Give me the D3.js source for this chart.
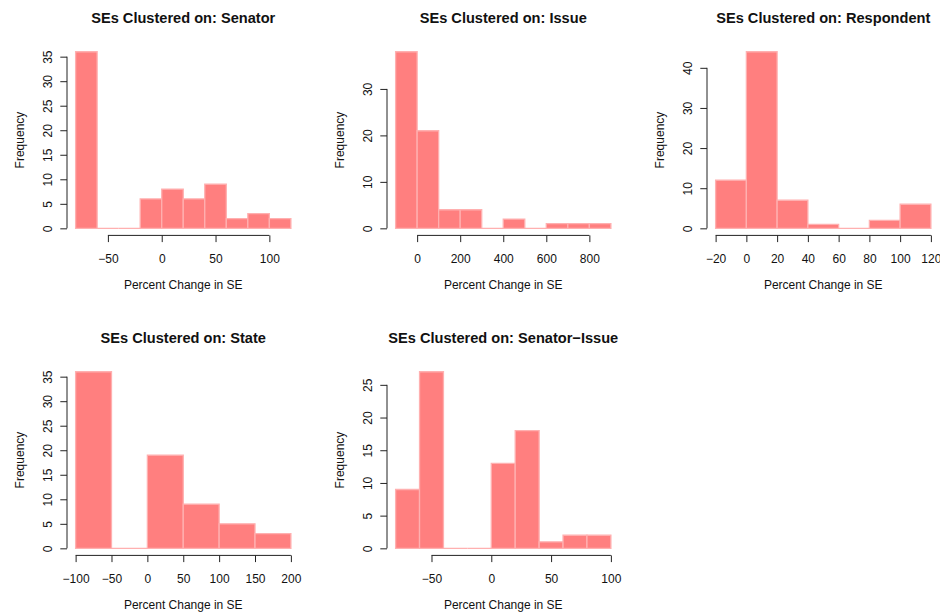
<!DOCTYPE html>
<html>
<head>
<meta charset="utf-8">
<script src="https://cdn.jsdelivr.net/npm/d3@7"></script>
<style>
  html, body { margin: 0; padding: 0; background: #fff; }
  svg { display: block; font-family: "Liberation Sans", Arial, Helvetica, sans-serif; }
</style>
</head>
<body>
<svg id="chart" width="940" height="613"></svg>
<script>
// Histogram data: bin edges and counts for each clustering level
const titles = [
  "SEs Clustered on: Senator",
  "SEs Clustered on: Issue",
  "SEs Clustered on: Respondent",
  "SEs Clustered on: State",
  "SEs Clustered on: Senator\u2212Issue"
];

const senatorBreaks = [-80, -60, -40, -20, 0, 20, 40, 60, 80, 100, 120];
const senatorCounts = [36, 0, 0, 6, 8, 6, 9, 2, 3, 2];

const issueBreaks = [-100, 0, 100, 200, 300, 400, 500, 600, 700, 800, 900];
const issueCounts = [38, 21, 4, 4, 0, 2, 0, 1, 1, 1];

const respondentBreaks = [-20, 0, 20, 40, 60, 80, 100, 120];
const respondentCounts = [12, 44, 7, 1, 0, 2, 6];

const stateBreaks = [-100, -50, 0, 50, 100, 150, 200];
const stateCounts = [36, 0, 19, 9, 5, 3];

const senatorIssueBreaks = [-80, -60, -40, -20, 0, 20, 40, 60, 80, 100];
const senatorIssueCounts = [9, 27, 0, 0, 13, 18, 1, 2, 2];

// Axis tick values
const senatorXTicks = [-50, 0, 50, 100];
const senatorYTicks = [0, 5, 10, 15, 20, 25, 30, 35];
const issueXTicks = [0, 200, 400, 600, 800];
const issueYTicks = [0, 10, 20, 30];
const respondentXTicks = [-20, 0, 20, 40, 60, 80, 100, 120];
const respondentYTicks = [0, 10, 20, 30, 40];
const stateXTicks = [-100, -50, 0, 50, 100, 150, 200];
const stateYTicks = [0, 5, 10, 15, 20, 25, 30, 35];
const senatorIssueXTicks = [-50, 0, 50, 100];
const senatorIssueYTicks = [0, 5, 10, 15, 20, 25];

const xLabel = "Percent Change in SE";
const yLabel = "Frequency";

const panels = [
  { title: titles[0], breaks: senatorBreaks, counts: senatorCounts, xt: senatorXTicks, yt: senatorYTicks },
  { title: titles[1], breaks: issueBreaks, counts: issueCounts, xt: issueXTicks, yt: issueYTicks },
  { title: titles[2], breaks: respondentBreaks, counts: respondentCounts, xt: respondentXTicks, yt: respondentYTicks },
  { title: titles[3], breaks: stateBreaks, counts: stateCounts, xt: stateXTicks, yt: stateYTicks },
  { title: titles[4], breaks: senatorIssueBreaks, counts: senatorIssueCounts, xt: senatorIssueXTicks, yt: senatorIssueYTicks }
];

// Layout: 2 x 3 grid of plot regions
const cellW = 320, cellH = 320;
const plotLeft0 = 67, plotTop0 = 44.7;
const plotW = 232.5, plotH = 190.7;

const svg = d3.select("#chart");
const fmt = d3.format("");

panels.forEach((p, i) => {
  const col = i % 3, row = Math.floor(i / 3);
  const left = plotLeft0 + col * cellW;
  const top = plotTop0 + row * cellH;

  // Extend the data range by 4% on each side
  const x0 = p.breaks[0], x1 = p.breaks[p.breaks.length - 1];
  const xPad = (x1 - x0) * 0.04;
  const yMax = d3.max(p.counts);
  const yPad = yMax * 0.04;

  const x = d3.scaleLinear().domain([x0 - xPad, x1 + xPad]).range([left, left + plotW]);
  const y = d3.scaleLinear().domain([-yPad, yMax + yPad]).range([top + plotH, top]);

  const g = svg.append("g");

  // Bars (zero-count bins still show their outline along the baseline)
  const bins = p.counts.map((c, k) => ({ lo: p.breaks[k], hi: p.breaks[k + 1], n: c }));
  g.append("g")
    .selectAll("path")
    .data(bins)
    .join("path")
    .attr("d", d => {
      const a = x(d.lo), b = x(d.hi), y0 = y(0), y1 = y(d.n);
      return `M${a},${y0}V${y1}H${b}V${y0}Z`;
    })
    .attr("fill", "#ff7f7f")
    .attr("stroke", "#ffb0b0")
    .attr("stroke-width", 1.3);

  // X axis: line runs from the first to the last tick
  const xAxis = d3.axisBottom(x).tickValues(p.xt).tickSize(6.7).tickSizeOuter(0).tickFormat(fmt);
  const xg = g.append("g").attr("transform", `translate(0,${top + plotH})`).call(xAxis);
  xg.select(".domain").remove();
  xg.append("line")
    .attr("x1", x(p.xt[0])).attr("x2", x(p.xt[p.xt.length - 1]))
    .attr("y1", 0).attr("y2", 0)
    .attr("stroke", "#222").attr("stroke-width", 1);
  xg.selectAll(".tick line").attr("stroke", "#222");
  xg.selectAll(".tick text")
    .attr("y", 27.2).attr("dy", null)
    .attr("fill", "#111")
    .style("font-size", "12px")
    .style("font-family", "\"Liberation Sans\", Arial, sans-serif");

  // Y axis with rotated labels
  const yAxis = d3.axisLeft(y).tickValues(p.yt).tickSize(6.7).tickSizeOuter(0).tickFormat(fmt);
  const yg = g.append("g").attr("transform", `translate(${left},0)`).call(yAxis);
  yg.select(".domain").remove();
  yg.append("line")
    .attr("x1", 0).attr("x2", 0)
    .attr("y1", y(p.yt[0])).attr("y2", y(p.yt[p.yt.length - 1]))
    .attr("stroke", "#222").attr("stroke-width", 1);
  yg.selectAll(".tick line").attr("stroke", "#222");
  yg.selectAll(".tick text")
    .attr("x", null).attr("dy", null)
    .attr("transform", "translate(-15.5,0) rotate(-90)")
    .attr("text-anchor", "middle")
    .attr("fill", "#111")
    .style("font-size", "12px")
    .style("font-family", "\"Liberation Sans\", Arial, sans-serif");

  // Title and axis titles
  const cx = left + plotW / 2, cy = top + plotH / 2;
  g.append("text")
    .attr("x", cx).attr("y", top - 22)
    .attr("text-anchor", "middle")
    .attr("font-weight", "bold")
    .attr("font-size", "14.6px")
    .attr("fill", "#111")
    .text(p.title);

  g.append("text")
    .attr("x", cx).attr("y", top + plotH + 54)
    .attr("text-anchor", "middle")
    .attr("font-size", "12px")
    .attr("fill", "#111")
    .text(xLabel);

  g.append("text")
    .attr("transform", `translate(${left - 43},${cy}) rotate(-90)`)
    .attr("text-anchor", "middle")
    .attr("font-size", "12px")
    .attr("fill", "#111")
    .text(yLabel);
});
</script>
</body>
</html>
